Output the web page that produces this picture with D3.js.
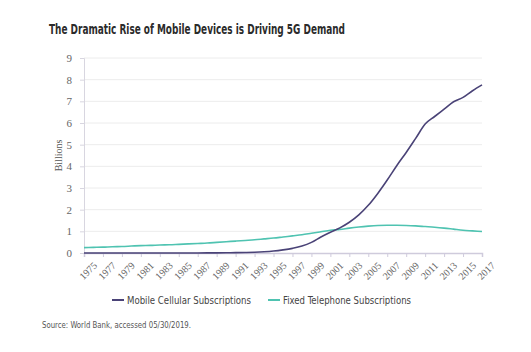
<!DOCTYPE html>
<html>
<head>
<meta charset="utf-8">
<script src="https://cdn.jsdelivr.net/npm/d3@7"></script>
<style>
	body { margin: 0; background: #fff; }
	svg { display: block; }
</style>
</head>
<body>
<div id="chart"></div>
<script>
const years = d3.range(1975, 2018);
// billions
const mobile = [
	0, 0, 0, 0, 0, 0, 0, 0, 0, 0.001,
	0.001, 0.002, 0.003, 0.004, 0.007, 0.011, 0.016, 0.023, 0.034, 0.056,
	0.091, 0.145, 0.215, 0.318, 0.49, 0.74, 0.96, 1.16, 1.42, 1.76,
	2.2, 2.75, 3.37, 4.03, 4.64, 5.29, 5.95, 6.3, 6.64, 6.98,
	7.18, 7.49, 7.76,
];
const fixed = [
	0.25, 0.26, 0.27, 0.29, 0.30, 0.32, 0.34, 0.35, 0.37, 0.38,
	0.40, 0.42, 0.44, 0.46, 0.49, 0.52, 0.55, 0.58, 0.61, 0.65,
	0.69, 0.74, 0.79, 0.84, 0.91, 0.98, 1.05, 1.09, 1.15, 1.20,
	1.24, 1.27, 1.28, 1.28, 1.27, 1.25, 1.22, 1.19, 1.15, 1.10,
	1.05, 1.02, 0.99,
];
const yTicks = d3.range(0, 10);
const xTicks = years.filter((y) => y % 2 === 1);
const seriesNames = ['Mobile Cellular Subscriptions', 'Fixed Telephone Subscriptions'];
const seriesColors = ['#4a4377', '#4fc3b1'];

const W = 531, H = 352;
const margin = { top: 58, right: 49, bottom: 99, left: 84 };

const svg = d3.select('#chart').append('svg').attr('width', W).attr('height', H);

const x = d3.scaleLinear().domain([1975, 2017]).range([margin.left, W - margin.right]);
const y = d3.scaleLinear().domain([0, 9]).range([H - margin.bottom, margin.top]);

// title
svg.append('text')
	.attr('x', 49).attr('y', 34)
	.attr('textLength', 296).attr('lengthAdjust', 'spacingAndGlyphs')
	.style('font-family', '"Liberation Sans Narrow", "DejaVu Sans Condensed", Roboto, sans-serif')
	.style('font-weight', 'bold').style('font-size', '14px').style('fill', '#2b2b2b')
	.text('The Dramatic Rise of Mobile Devices is Driving 5G Demand');

// gridlines
svg.append('g')
	.selectAll('line')
	.data(yTicks.filter((d) => d > 0))
	.enter()
	.append('line')
	.attr('x1', x(1975)).attr('x2', x(2017))
	.attr('y1', (d) => y(d)).attr('y2', (d) => y(d))
	.attr('stroke', '#ececec').attr('stroke-width', 1);

const serif = '"Liberation Serif", "DejaVu Serif", serif';

// y axis
const yAxis = svg.append('g')
	.attr('transform', `translate(${x(1975)},0)`)
	.call(d3.axisLeft(y).tickValues(yTicks).tickSize(4).tickPadding(8));
yAxis.select('.domain').attr('stroke', '#d8d6e0');
yAxis.selectAll('.tick line').attr('stroke', '#d8d6e0');
yAxis.selectAll('.tick text')
	.style('font-family', serif).style('font-size', '11px').style('fill', '#666');

// x axis
const xAxis = svg.append('g')
	.attr('transform', `translate(0,${y(0)})`)
	.call(d3.axisBottom(x).tickValues(xTicks).tickFormat(d3.format('d')).tickSize(4).tickPadding(3));
xAxis.select('.domain').attr('stroke', '#cfcbdc').attr('stroke-width', 1.5);
xAxis.selectAll('.tick line').attr('stroke', '#cfcbdc');
xAxis.selectAll('.tick text')
	.attr('text-anchor', 'end')
	.attr('dy', '0.6em')
	.attr('transform', 'translate(4,4) rotate(-45)')
	.style('font-family', serif).style('font-size', '10px').style('fill', '#666');

// axis title
svg.append('text')
	.attr('transform', `translate(62,${(y(0) + y(9)) / 2}) rotate(-90)`)
	.attr('text-anchor', 'middle')
	.style('font-family', serif).style('font-size', '10px').style('fill', '#555')
	.text('Billions');

// lines
const line = d3.line()
	.x((d, i) => x(years[i]))
	.y((d) => y(d))
	.curve(d3.curveMonotoneX);

[fixed, mobile].forEach((vals) => {
	const idx = vals === mobile ? 0 : 1;
	svg.append('path')
		.datum(vals)
		.attr('d', line)
		.attr('fill', 'none')
		.attr('stroke', seriesColors[idx])
		.attr('stroke-width', 1.6);
});

// legend
const condensed = '"Liberation Sans Narrow", "DejaVu Sans Condensed", Roboto, sans-serif';
const legendX = [112, 268];
const legendW = [124, 128];
const legend = svg.append('g');
seriesNames.forEach((name, i) => {
	legend.append('line')
		.attr('x1', legendX[i]).attr('x2', legendX[i] + 12)
		.attr('y1', 300).attr('y2', 300)
		.attr('stroke', seriesColors[i]).attr('stroke-width', 2);
	legend.append('text')
		.attr('x', legendX[i] + 15).attr('y', 304)
		.attr('textLength', legendW[i]).attr('lengthAdjust', 'spacingAndGlyphs')
		.style('font-family', condensed).style('font-size', '11px').style('fill', '#444')
		.text(name);
});

// source
svg.append('text')
	.attr('x', 42).attr('y', 328)
	.attr('textLength', 149).attr('lengthAdjust', 'spacingAndGlyphs')
	.style('font-family', condensed).style('font-size', '8.5px').style('fill', '#555')
	.text('Source: World Bank, accessed 05/30/2019.');
</script>
</body>
</html>
